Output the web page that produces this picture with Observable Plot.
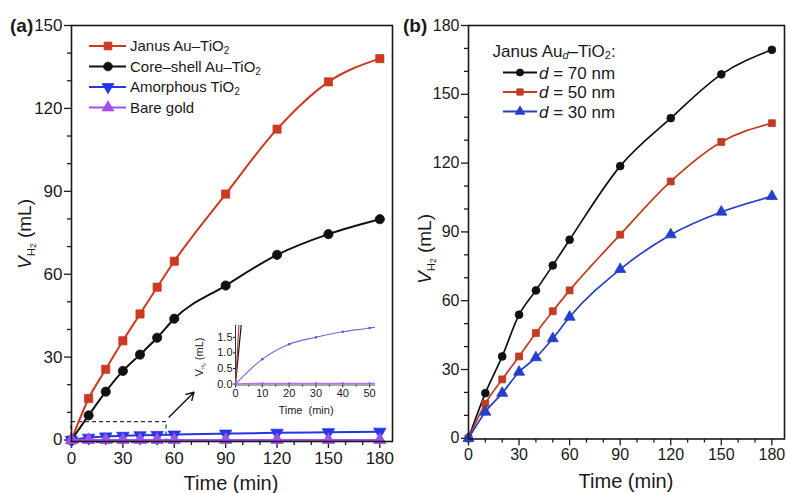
<!DOCTYPE html>
<html><head><meta charset="utf-8">
<script src="https://cdn.jsdelivr.net/npm/d3@7"></script>
<script src="https://cdn.jsdelivr.net/npm/@observablehq/plot@0.6"></script>
<style>
body{margin:0;background:#fff;}
#fig{position:relative;width:787px;height:493px;background:#fff;font-family:"Liberation Sans",Arial,Helvetica,sans-serif;}
#fig svg{position:absolute;overflow:visible;}
</style></head><body><div id="fig"></div>
<script>
// ---------- data ----------
const time = [0, 10, 20, 30, 40, 50, 60, 90, 120, 150, 180];
// panel (a)
const janusA     = [0, 15.0, 25.6, 35.9, 45.6, 55.3, 64.7, 89.0, 112.5, 129.6, 138.0];
const coreShellA = [0, 8.9, 17.5, 25.0, 30.9, 37.0, 43.9, 55.9, 67.0, 74.5, 79.9];
const amorphousA = [0, 0.8, 1.28, 1.5, 1.68, 1.8, 1.95, 2.3, 2.6, 2.8, 3.0];
const bareGoldA  = [0, 0.02, 0.02, 0.02, 0.02, 0.02, 0.02, 0.02, 0.02, 0.02, 0.02];
const legendA = ["Janus Au–TiO", "Core–shell Au–TiO", "Amorphous TiO", "Bare gold"];
// panel (b)
const d70 = [0, 19.7, 35.7, 53.9, 64.5, 75.4, 86.6, 118.7, 139.6, 158.7, 169.4];
const d50 = [0, 15.1, 25.7, 35.7, 45.9, 55.4, 64.5, 88.8, 112.0, 129.2, 137.4];
const d30 = [0, 11.5, 19.7, 28.9, 35.2, 43.5, 52.9, 73.7, 88.8, 98.7, 105.5];
const legendB = ["70", "50", "30"];
// ticks
const xTicks = [0, 30, 60, 90, 120, 150, 180];
const xMinor = [10, 20, 40, 50, 70, 80, 100, 110, 130, 140, 160, 170];
const yTicksA = [0, 30, 60, 90, 120, 150];
const yMinorA = [10, 20, 40, 50, 70, 80, 100, 110, 130, 140];
const yTicksB = [0, 30, 60, 90, 120, 150, 180];
const yMinorB = [10, 20, 40, 50, 70, 80, 100, 110, 130, 140, 160, 170];
const insetXTicks = [0, 10, 20, 30, 40, 50];
const insetXMinor = [5, 15, 25, 35, 45];
const insetYTicks = [0, 0.5, 1.0, 1.5];
// zoom box and arrow (data units of panel a)
const zoomBox = [{x1: 0, x2: 55.5, y1: -1, y2: 6.5}];
const zoomArrow = [{x1: 57, y1: 8.3, x2: 71.5, y2: 17.3}];

// ---------- helpers ----------
const FONT = "'Liberation Sans', Arial, Helvetica, sans-serif";
const triangleDown = {
  draw(ctx, size) {
    const y = -Math.sqrt(size / (Math.sqrt(3) * 3));
    ctx.moveTo(0, -2 * y);
    ctx.lineTo(-Math.sqrt(3) * y, y);
    ctx.lineTo(Math.sqrt(3) * y, y);
    ctx.closePath();
  }
};
const rows = vals => time.map((t, i) => ({t, v: vals[i]}));

const seriesA = [
  {vals: janusA, color: "#cc3a1f", symbol: "square", r: 4.6},
  {vals: coreShellA, color: "#111111", symbol: "circle", r: 4.6},
  {vals: amorphousA, color: "#2436e6", symbol: triangleDown, r: 4.6},
  {vals: bareGoldA, color: "#a050ee", symbol: "triangle", r: 4.6}
];
const seriesB = [
  {vals: d70, color: "#111111", symbol: "circle", r: 3.9},
  {vals: d50, color: "#c23b22", symbol: "square", r: 3.9},
  {vals: d30, color: "#2440c8", symbol: "triangle", r: 4.1}
];

function seriesMarks(series, sw, extra = {}) {
  return series.flatMap(s => [
    Plot.line(rows(s.vals), {x: "t", y: "v", stroke: s.color, strokeWidth: sw, curve: "monotone-x", ...extra}),
    Plot.dot(rows(s.vals), {x: "t", y: "v", symbol: s.symbol, r: s.r, fill: s.color, stroke: s.color, strokeWidth: 0.8, ...extra})
  ]);
}
const blank = () => "";
const baseStyle = {fontFamily: FONT, fontSize: "17px", color: "#1a1a1a", background: "transparent", overflow: "visible"};

const fig = document.getElementById("fig");

// ---------- panel (a) ----------
const plotA = Plot.plot({
  width: 395, height: 493,
  marginLeft: 71, marginRight: 3, marginTop: 25, marginBottom: 52,
  x: {domain: [0, 187.4]},
  y: {domain: [-0.54, 150]},
  style: baseStyle,
  marks: [
    Plot.axisX(xTicks, {tickSize: 7, tickPadding: 3, label: null, strokeWidth: 1.3}),
    Plot.axisX(xMinor, {tickSize: 4, tickFormat: blank, label: null, strokeWidth: 1.3}),
    Plot.axisY(yTicksA, {tickSize: 7, tickPadding: 2, label: null, strokeWidth: 1.3}),
    Plot.axisY(yMinorA, {tickSize: 4, tickFormat: blank, label: null, strokeWidth: 1.3}),
    Plot.rect(zoomBox, {x1: "x1", x2: "x2", y1: "y1", y2: "y2", fill: "none", stroke: "#333", strokeWidth: 1.2, strokeDasharray: "4,3"}),
    Plot.arrow(zoomArrow, {x1: "x1", y1: "y1", x2: "x2", y2: "y2", stroke: "#111", strokeWidth: 1.4, headLength: 9}),
    ...seriesMarks(seriesA, 2),
    Plot.frame({stroke: "#1a1a1a", strokeWidth: 1.6})
  ]
});
plotA.style.left = "0px"; plotA.style.top = "0px";
fig.appendChild(plotA);

// ---------- inset (a) ----------
const inset = Plot.plot({
  width: 185, height: 105,
  marginLeft: 40, marginRight: 5, marginTop: 10, marginBottom: 35.5,
  x: {domain: [0, 52.2]},
  y: {domain: [-0.03, 1.88]},
  style: {...baseStyle, fontSize: "11px"},
  marks: [
    Plot.axisX(insetXTicks, {tickSize: 3, tickPadding: 1, label: null, strokeWidth: 1}),
    Plot.axisX(insetXMinor, {tickSize: 2, tickFormat: blank, label: null, strokeWidth: 1}),
    Plot.axisY(insetYTicks, {tickSize: 2, tickPadding: 1, tickFormat: d3.format(".1f"), label: null, strokeWidth: 1}),
    Plot.ruleX([0], {stroke: "#333", strokeWidth: 1}),
    Plot.ruleY([-0.03], {stroke: "#555", strokeWidth: 1}),
    Plot.line(rows(coreShellA), {x: "t", y: "v", stroke: "#111", strokeWidth: 1.2, curve: "linear", clip: true}),
    Plot.line(rows(janusA), {x: "t", y: "v", stroke: "#b0453a", strokeWidth: 1.2, curve: "linear", clip: true}),
    Plot.line(rows(amorphousA), {x: "t", y: "v", stroke: "#6a6ae2", strokeWidth: 1.1, curve: "monotone-x", clip: true}),
    Plot.dot(rows(amorphousA), {x: "t", y: "v", r: 1.3, fill: "#5a5ad8", clip: true}),
    Plot.line(rows(bareGoldA), {x: "t", y: "v", stroke: "#b070f0", strokeWidth: 1.6, clip: true}),
    Plot.dot(rows(bareGoldA), {x: "t", y: "v", r: 1.3, fill: "#9a5ae8", clip: true})
  ]
});
inset.style.left = "195px"; inset.style.top = "315px";
fig.appendChild(inset);

// ---------- panel (b) ----------
const plotB = Plot.plot({
  width: 392, height: 493,
  marginLeft: 73, marginRight: 3, marginTop: 25, marginBottom: 54.5,
  x: {domain: [0, 187.5]},
  y: {domain: [-0.3, 180]},
  style: {...baseStyle, fontSize: "16px"},
  marks: [
    Plot.axisX(xTicks, {tickSize: 7, tickPadding: 3, label: null, strokeWidth: 1.3}),
    Plot.axisX(xMinor, {tickSize: 4, tickFormat: blank, label: null, strokeWidth: 1.3}),
    Plot.axisY(yTicksB, {tickSize: 7, tickPadding: 2, label: null, strokeWidth: 1.3}),
    Plot.axisY(yMinorB, {tickSize: 4, tickFormat: blank, label: null, strokeWidth: 1.3}),
    ...seriesMarks(seriesB, 1.7),
    Plot.frame({stroke: "#1a1a1a", strokeWidth: 1.6})
  ]
});
plotB.style.left = "395px"; plotB.style.top = "0px";
fig.appendChild(plotB);

// ---------- decorations (text, legends) ----------
function addText(svg, x, y, parts, opts = {}) {
  const t = d3.select(svg).append("text")
    .attr("x", x).attr("y", y)
    .attr("font-family", FONT)
    .attr("font-size", opts.size || 16)
    .attr("fill", opts.fill || "#1a1a1a")
    .attr("text-anchor", opts.anchor || "start");
  if (opts.weight) t.attr("font-weight", opts.weight);
  if (opts.transform) t.attr("transform", opts.transform);
  for (const p of parts) {
    const s = t.append("tspan").text(p.text);
    if (p.italic) s.attr("font-style", "italic");
    if (p.size) s.attr("font-size", p.size);
    if (p.dy) s.attr("dy", p.dy);
  }
  return t;
}
function yTitle(svg, cx, cy, size) {
  addText(svg, 0, 0, [
    {text: "V", italic: true},
    {text: "H", size: size * 0.6, dy: 4},
    {text: "2", size: size * 0.45, dy: 1},
    {text: " (mL)", dy: -5}
  ], {size, anchor: "middle", transform: `translate(${cx},${cy}) rotate(-90) translate(0,6)`});
}
const symGen = (type, size) => d3.symbol().type(type).size(size)();
function legendRow(svg, y, x0, x1, xm, color, symType, symSize, sw) {
  const g = d3.select(svg).append("g");
  g.append("line").attr("x1", x0).attr("x2", x1).attr("y1", y).attr("y2", y)
    .attr("stroke", color).attr("stroke-width", sw);
  g.append("path").attr("d", symGen(symType, symSize))
    .attr("transform", `translate(${xm},${y})`).attr("fill", color).attr("stroke", color).attr("stroke-width", 0.8);
}
const d3TriDown = {draw: triangleDown.draw};

// panel (a) texts
addText(plotA, 10, 32, [{text: "(a)"}], {size: 19, weight: "bold"});
yTitle(plotA, 25, 234, 19);
addText(plotA, 231, 490, [{text: "Time (min)"}], {size: 20, anchor: "middle"});
const legSymA = [d3.symbolSquare, d3.symbolCircle, d3TriDown, d3.symbolTriangle];
const legColA = ["#cc3a1f", "#111111", "#2436e6", "#a050ee"];
const legYA = [46, 66.5, 87, 107.5];
legendA.forEach((lab, i) => {
  legendRow(plotA, legYA[i], 89, 126, 108, legColA[i], legSymA[i], 60, 2);
  const parts = [{text: lab}];
  if (i < 3) parts.push({text: "2", size: 10, dy: 3});
  addText(plotA, 130, legYA[i] + 5, parts, {size: 15});
});

// inset texts
addText(inset, 0, 0, [
  {text: "V"},
  {text: "H", size: 5, dy: 2},
  {text: "2", size: 4, dy: 0.5},
  {text: " (mL)", dy: -2.5}
], {size: 11, anchor: "middle", transform: "translate(4,42) rotate(-90) translate(0,4)"});
addText(inset, 111, 99, [{text: "Time  (min)"}], {size: 11, anchor: "middle"});

// panel (b) texts
addText(plotB, 8, 32, [{text: "(b)"}], {size: 19, weight: "bold"});
yTitle(plotB, 30, 249, 19);
addText(plotB, 231, 488, [{text: "Time (min)"}], {size: 20, anchor: "middle"});
addText(plotB, 97.5, 57, [
  {text: "Janus Au"}, {text: "d", italic: true, size: 11, dy: 2}, {text: "–TiO", dy: -2},
  {text: "2", size: 11, dy: 2}, {text: ":", dy: -2}
], {size: 17});
const legSymB = [d3.symbolCircle, d3.symbolSquare, d3.symbolTriangle];
const legColB = ["#111111", "#c23b22", "#2440c8"];
const legYB = [72.5, 92, 111.5];
legendB.forEach((lab, i) => {
  legendRow(plotB, legYB[i], 108, 142, 125, legColB[i], legSymB[i], 40, 1.8);
  addText(plotB, 144, legYB[i] + 6, [{text: "d", italic: true}, {text: " = " + lab + " nm"}], {size: 17});
});
</script></body></html>
